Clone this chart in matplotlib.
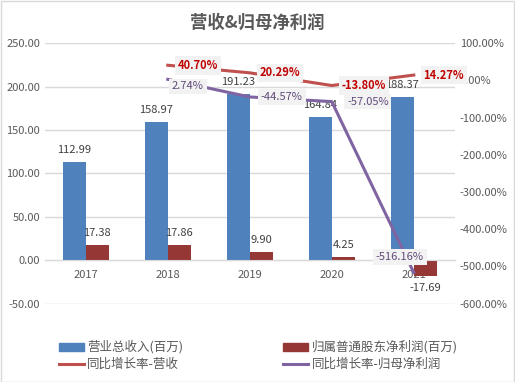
import matplotlib.pyplot as plt
from matplotlib.patches import Patch, Rectangle
from matplotlib.lines import Line2D
from matplotlib.ticker import FuncFormatter

plt.rcParams['font.family'] = ['Noto Sans CJK SC', 'DejaVu Sans']

years = ['2017', '2018', '2019', '2020', '2021']
revenue = [112.99, 158.97, 191.23, 164.84, 188.37]
net_profit = [17.38, 17.86, 9.90, 4.25, -17.69]
rev_growth = [None, 40.70, 20.29, -13.80, 14.27]
profit_growth = [None, 2.74, -44.57, -57.05, -516.16]

c_blue = '#4F81BD'
c_darkred = '#953735'
c_red = '#C0504D'
c_purple = '#8064A2'
c_text = '#595959'
c_grid = '#D9D9D9'

fig = plt.figure(figsize=(5.15, 3.82), dpi=100)
fig.patches.append(Rectangle((0.001, 0.001), 0.997, 0.997, transform=fig.transFigure,
                             fill=False, edgecolor=c_grid, linewidth=1))
fig.suptitle('营收&归母净利润', y=0.965, fontsize=12.5, fontweight='bold', color=c_text)

ax = fig.add_axes([0.087, 0.205, 0.796, 0.682])
ax2 = ax.twinx()

x = list(range(len(years)))
w = 0.28
ax.bar([i - w / 2 for i in x], revenue, w, color=c_blue, zorder=2)
ax.bar([i + w / 2 for i in x], net_profit, w, color=c_darkred, zorder=2)

for i, v in enumerate(revenue):
    ax.annotate(f'{v:.2f}', (i - w / 2, v), xytext=(0, 5), textcoords='offset points',
                ha='center', va='bottom', fontsize=8, color='#404040')
for i, v in enumerate(net_profit):
    off = 5 if v >= 0 else -5
    ax.annotate(f'{v:.2f}', (i + w / 2, v), xytext=(0, off), textcoords='offset points',
                ha='center', va='bottom' if v >= 0 else 'top', fontsize=8, color='#404040')

ax.set_ylim(-50, 250)
ax.set_yticks([-50, 0, 50, 100, 150, 200, 250])
ax.yaxis.set_major_formatter(FuncFormatter(lambda v, p: f'{v:.2f}'))
ax.set_xlim(-0.5, 4.5)
ax.set_xticks(x)
ax.set_xticklabels(years)
ax.spines['bottom'].set_position(('data', 0))
ax.spines['bottom'].set_color(c_grid)
for s in ['top', 'left', 'right']:
    ax.spines[s].set_visible(False)
ax.tick_params(axis='both', length=0, labelsize=8, labelcolor=c_text)
ax.tick_params(axis='x', pad=7)
ax.grid(axis='y', color=c_grid, linewidth=1, zorder=0)
ax.set_axisbelow(True)

xs = [i for i, v in enumerate(rev_growth) if v is not None]
rg = [v for v in rev_growth if v is not None]
pg = [v for v in profit_growth if v is not None]
ax2.plot(xs, rg, color=c_red, linewidth=2.2, zorder=3)
ax2.plot(xs, pg, color=c_purple, linewidth=2.2, zorder=3)
ax2.set_ylim(-600, 100)
ax2.set_yticks(range(-600, 101, 100))
ax2.yaxis.set_major_formatter(FuncFormatter(lambda v, p: f'{v:.2f}%'))
ax2.tick_params(axis='y', length=0, labelsize=8, labelcolor=c_text)
for s in ax2.spines.values():
    s.set_visible(False)

box = dict(boxstyle='square,pad=0.25', facecolor='#F2F2F2', edgecolor='none')
for xi, v in zip(xs, rg):
    ax2.annotate(f'{v:.2f}%', (xi, v), xytext=(7, 0), textcoords='offset points',
                 ha='left', va='center', fontsize=8, fontweight='bold', color='#C00000', bbox=box)
p_offsets = [(3, -5), (8, 0), (11, 0), (-10, 11)]
p_ha = ['left', 'left', 'left', 'center']
for xi, v, off, ha in zip(xs, pg, p_offsets, p_ha):
    ax2.annotate(f'{v:.2f}%', (xi, v), xytext=off, textcoords='offset points',
                 ha=ha, va='center', fontsize=8, color='#604A7B', bbox=box)

handles = [Patch(color=c_blue), Line2D([], [], color=c_red, linewidth=2.2),
           Patch(color=c_darkred), Line2D([], [], color=c_purple, linewidth=2.2)]
labels = ['营业总收入(百万)', '同比增长率-营收', '归属普通股东净利润(百万)', '同比增长率-归母净利润']
fig.legend(handles, labels, ncol=2, loc='lower left', bbox_to_anchor=(0.092, 0.0),
           frameon=False, fontsize=9, handlelength=2.0, handleheight=0.6,
           handletextpad=0.3, columnspacing=8.0, labelspacing=0.3,
           labelcolor=c_text)

fig.savefig('out.png', dpi=100)
